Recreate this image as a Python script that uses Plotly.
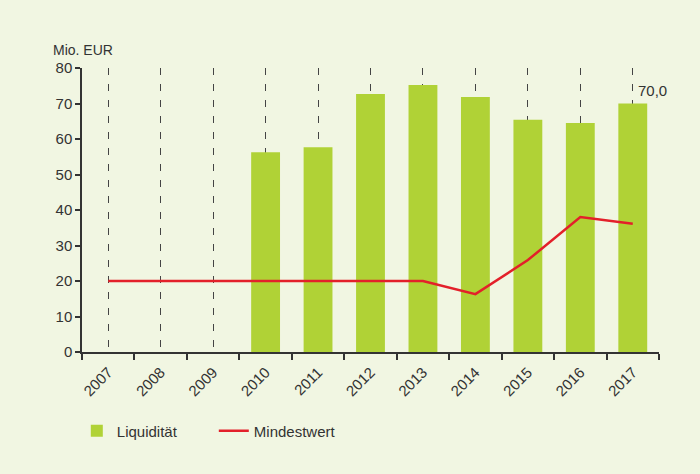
import plotly.graph_objects as go

years = [2007, 2008, 2009, 2010, 2011, 2012, 2013, 2014, 2015, 2016, 2017]
liquiditaet = [None, None, None, 56.3, 57.7, 72.7, 75.2, 71.8, 65.4, 64.5, 70.0]
mindestwert = [20, 20, 20, 20, 20, 20, 20, 16.3, 25.9, 38.0, 36.1]
y_ticks = [0, 10, 20, 30, 40, 50, 60, 70, 80]
unit_label = "Mio. EUR"

bg = "#F1F6E2"
green = "#B0D236"
red = "#E3202A"
dark = "#333333"
font_family = "Liberation Sans, Arial, sans-serif"

fig = go.Figure()
fig.add_trace(go.Bar(x=years, y=liquiditaet, name="Liquidität", marker_color=green,
                     marker_line_width=0, width=0.55))
fig.add_trace(go.Scatter(x=years, y=mindestwert, name="Mindestwert", mode="lines",
                         line=dict(color=red, width=2.5)))

last = liquiditaet[-1]
fig.add_annotation(x=years[-1], y=last, text=f"{last:.1f}".replace(".", ","),
                   showarrow=False, xanchor="left", yanchor="middle",
                   xshift=3, yshift=13, font=dict(size=15, color=dark, family=font_family))
fig.add_annotation(x=0, y=1, xref="paper", yref="paper", text=unit_label,
                   showarrow=False, xanchor="left", yanchor="bottom",
                   xshift=-31, yshift=8, font=dict(size=14, color=dark, family=font_family))

fig.update_layout(
    width=700, height=474,
    paper_bgcolor=bg, plot_bgcolor=bg,
    margin=dict(l=82, r=41, t=68, b=122),
    font=dict(family=font_family, size=14, color=dark),
    showlegend=True,
    legend=dict(orientation="h", x=-0.009, y=-0.278, xanchor="left", yanchor="middle",
                bgcolor="rgba(0,0,0,0)", font=dict(size=15, color=dark),
                entrywidth=92, entrywidthmode="pixels", itemwidth=30),
    xaxis=dict(
        range=[2006.5, 2017.5], tickvals=years, ticktext=[str(y) for y in years],
        tickangle=-45, ticks="", showgrid=True, gridcolor="#444444", gridwidth=1,
        griddash="7px,9px", showline=True, linecolor=dark, linewidth=1.5,
        zeroline=False, tickfont=dict(size=15, color=dark), ticklabelstandoff=4,
        minor=dict(ticks="outside", tick0=2006.5, dtick=1, ticklen=6,
                   tickcolor=dark, tickwidth=1.5, showgrid=False),
    ),
    yaxis=dict(
        range=[0, 80], tickvals=y_ticks, ticks="outside", ticklen=5, tickcolor=dark,
        tickwidth=1.5, showgrid=False, showline=True, linecolor=dark, linewidth=1.5,
        zeroline=False, tickfont=dict(size=15, color=dark),
    ),
)

fig.write_html("out.html", config={"displayModeBar": False},
               post_script="document.body.style.margin='0';")
